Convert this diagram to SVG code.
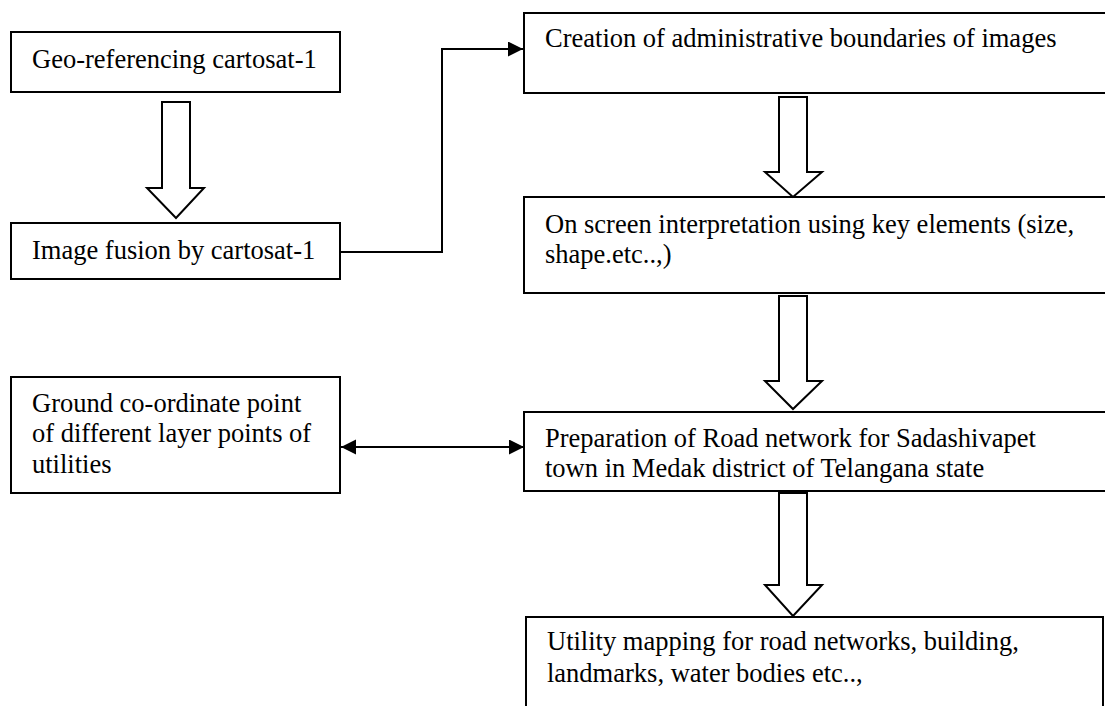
<svg xmlns="http://www.w3.org/2000/svg" width="1105" height="706" viewBox="0 0 1105 706">
<style>
.box{fill:#fff;stroke:#000;stroke-width:2}
.blk{fill:#fff;stroke:#000;stroke-width:2;stroke-linejoin:miter}
.t{font-family:"Liberation Serif","Times New Roman",serif;font-size:26.5px;fill:#000}
.con{fill:none;stroke:#000;stroke-width:2}
</style>
<defs>
<marker id="ah" markerWidth="16" markerHeight="16" refX="15" refY="7.5" orient="auto" markerUnits="userSpaceOnUse">
<path d="M0,0 L15,7.5 L0,15 Z" fill="#000"/>
</marker>
<marker id="ahs" markerWidth="16" markerHeight="16" refX="15" refY="7.5" orient="auto-start-reverse" markerUnits="userSpaceOnUse">
<path d="M0,0 L15,7.5 L0,15 Z" fill="#000"/>
</marker>
</defs>
<rect width="1105" height="706" fill="#fff"/>
<g id="n1">
<rect class="box" x="11" y="32" width="329" height="60"/>
<text class="t" x="32" y="68">Geo-referencing cartosat-1</text>
</g>
<g id="n2">
<rect class="box" x="11" y="223" width="329" height="56"/>
<text class="t" x="32" y="259">Image fusion by cartosat-1</text>
</g>
<g id="n3">
<rect class="box" x="524" y="13" width="600" height="80"/>
<text class="t" x="545" y="47">Creation of administrative boundaries of images</text>
</g>
<g id="n4">
<rect class="box" x="524" y="197" width="600" height="96"/>
<text class="t" x="545" y="233">On screen interpretation using key elements (size,</text>
<text class="t" x="545" y="263">shape.etc..,)</text>
</g>
<g id="n5">
<rect class="box" x="11" y="377" width="329" height="116"/>
<text class="t" x="32" y="412">Ground co-ordinate point</text>
<text class="t" x="32" y="442">of different layer points of</text>
<text class="t" x="32" y="473">utilities</text>
</g>
<g id="n6">
<rect class="box" x="524" y="412" width="600" height="79"/>
<text class="t" x="545" y="447">Preparation of Road network for Sadashivapet</text>
<text class="t" x="545" y="477">town in Medak district of Telangana state</text>
</g>
<g id="n7">
<rect class="box" x="526" y="617" width="577" height="120"/>
<text class="t" x="547" y="650">Utility mapping for road networks, building,</text>
<text class="t" x="547" y="682">landmarks, water bodies etc..,</text>
</g>
<g id="connectors">
<path class="blk" d="M162,102 H190 V188 H204 L176,218 L147,188 H162 Z"/>
<path class="blk" d="M779,97 H807 V172 H822 L793,197 L765,172 H779 Z"/>
<path class="blk" d="M779,296 H807 V381 H822 L793,409 L765,381 H779 Z"/>
<path class="blk" d="M779,493 H807 V585 H822 L793,616 L765,585 H779 Z"/>
<path class="con" d="M340,252 H442 V49 H523" marker-end="url(#ah)"/>
<path class="con" d="M341,447 H524" marker-start="url(#ahs)" marker-end="url(#ah)"/>
</g>
</svg>
